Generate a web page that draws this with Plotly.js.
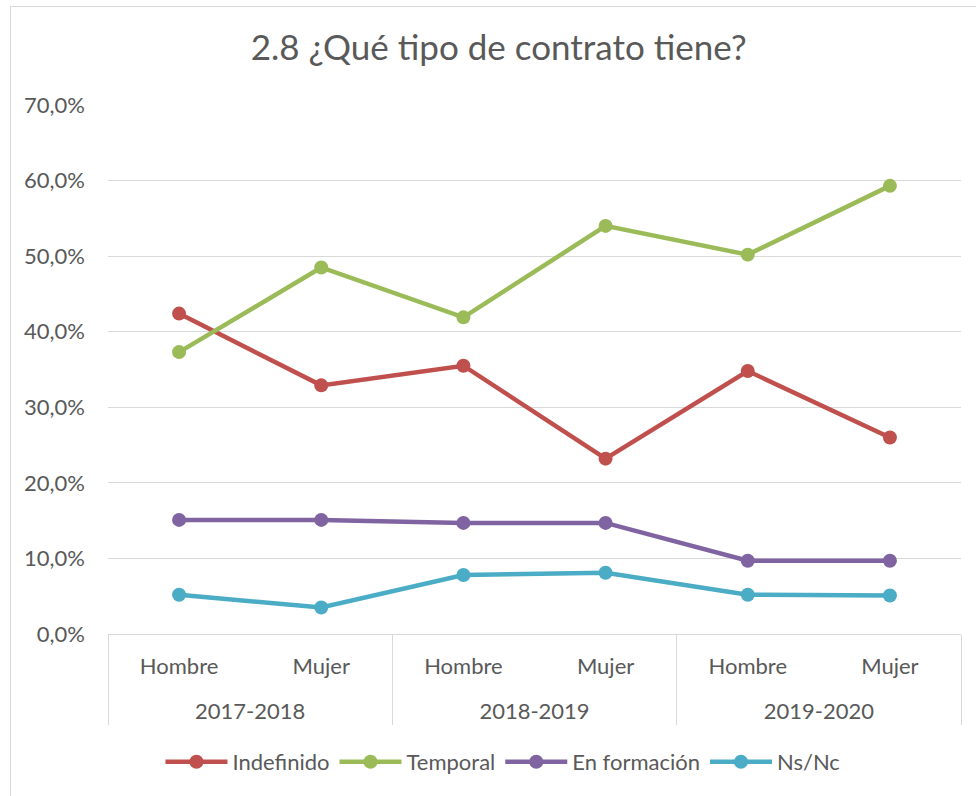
<!DOCTYPE html>
<html>
<head>
<meta charset="utf-8">
<script src="https://cdn.plot.ly/plotly-3.0.1.min.js"></script>
<style>
  body { margin: 0; background: #fff; }
  #wrap { position: relative; width: 976px; height: 796px; overflow: hidden; }
  #frame { position: absolute; left: 10px; top: 6px; width: 980px; height: 800px; border: 1px solid #d9d9d9; }
  #chart { position: absolute; left: 0; top: 0; width: 976px; height: 796px; }
</style>
</head>
<body>
<div id="wrap">
  <div id="frame"></div>
  <div id="chart"></div>
</div>
<script>
// datos
var cursos = ['2017-2018', '2017-2018', '2018-2019', '2018-2019', '2019-2020', '2019-2020'];
var sexos = ['Hombre', 'Mujer', 'Hombre', 'Mujer', 'Hombre', 'Mujer'];

var indefinido = [0.424, 0.329, 0.355, 0.232, 0.348, 0.260];
var temporal = [0.373, 0.485, 0.419, 0.540, 0.502, 0.593];
var enFormacion = [0.151, 0.151, 0.147, 0.147, 0.097, 0.097];
var nsNc = [0.052, 0.035, 0.078, 0.081, 0.052, 0.051];

var series = [
  { name: 'Indefinido', y: indefinido, color: '#C0504D' },
  { name: 'Temporal', y: temporal, color: '#9BBB59' },
  { name: 'En formación', y: enFormacion, color: '#8064A2' },
  { name: 'Ns/Nc', y: nsNc, color: '#4BACC6' }
];

// linea en blanco delante del curso para separar las dos filas de etiquetas
var cursosEtiqueta = cursos.map(function (c) { return '<br>' + c; });

var traces = series.map(function (s) {
  return {
    x: [cursosEtiqueta, sexos],
    y: s.y,
    name: s.name,
    type: 'scatter',
    mode: 'lines+markers',
    line: { color: s.color, width: 4.5 },
    marker: { color: s.color, size: 14 }
  };
});

var layout = {
  width: 976,
  height: 796,
  margin: { l: 108, r: 15, t: 105, b: 162 },
  paper_bgcolor: 'rgba(0,0,0,0)',
  plot_bgcolor: 'rgba(0,0,0,0)',
  font: { family: 'Lato, "Open Sans", sans-serif', size: 22, color: '#595959' },
  title: {
    text: '2.8 ¿Qué tipo de contrato tiene?',
    font: { size: 35, color: '#595959' },
    xref: 'paper',
    x: 0.458, xanchor: 'center',
    y: 0.94, yanchor: 'middle'
  },
  xaxis: {
    type: 'multicategory',
    range: [-0.5, 5.5],
    showline: true,
    linecolor: '#d9d9d9',
    linewidth: 1,
    showgrid: false,
    ticks: '',
    ticklabelstandoff: 13,
    showdividers: true,
    dividercolor: '#d9d9d9',
    dividerwidth: 1,
    tickfont: { size: 22, color: '#595959' }
  },
  yaxis: {
    range: [0, 0.7],
    dtick: 0.1,
    tickformat: '.1%',
    showgrid: true,
    gridcolor: '#d9d9d9',
    gridwidth: 1,
    zeroline: false,
    showline: false,
    ticks: '',
    ticklabelstandoff: 22,
    tickfont: { size: 22, color: '#595959' }
  },
  separators: ',.',
  legend: {
    orientation: 'h',
    x: 0.463, xanchor: 'center',
    y: -0.242, yanchor: 'middle',
    font: { size: 22, color: '#595959' },
    itemwidth: 62,
    traceorder: 'normal'
  },
  showlegend: true
};

Plotly.newPlot('chart', traces, layout, { displayModeBar: false, staticPlot: true });
</script>
</body>
</html>
